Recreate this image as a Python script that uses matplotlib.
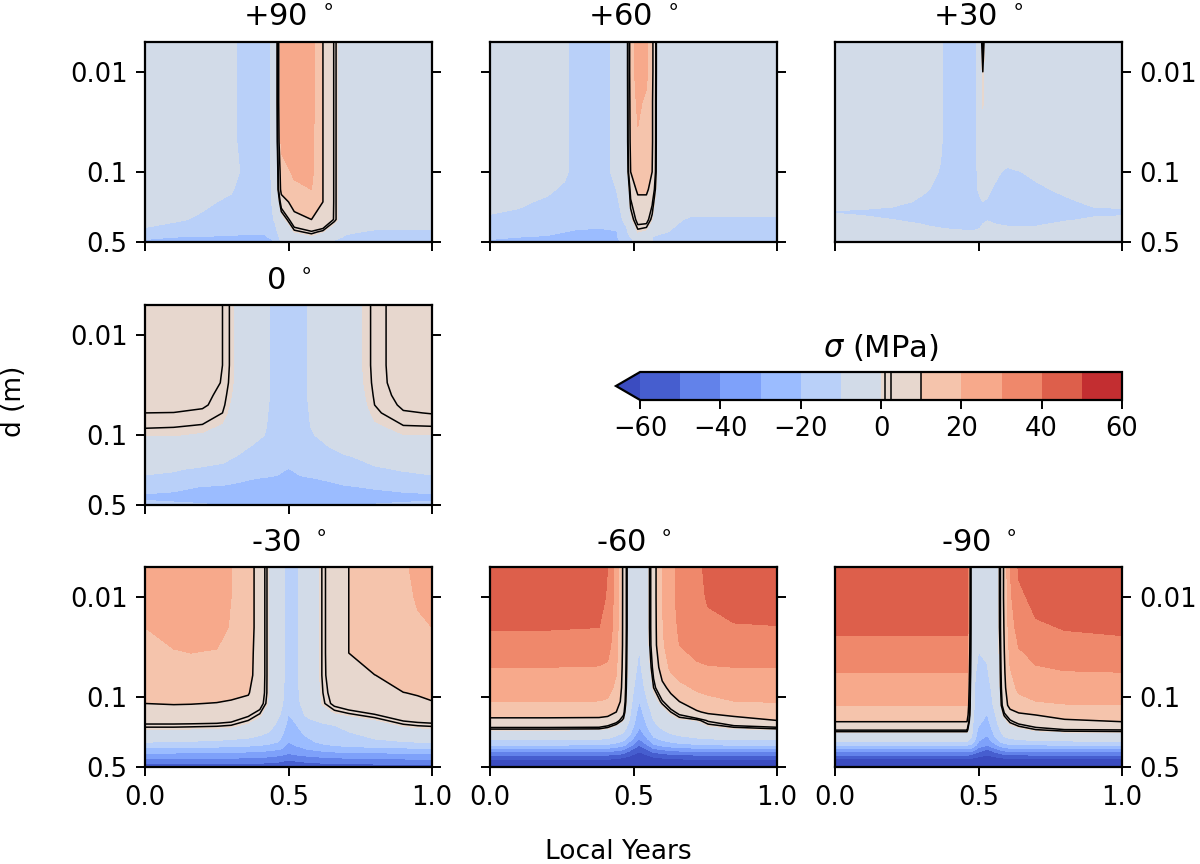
import numpy as np
import matplotlib
matplotlib.use("Agg")
import matplotlib.pyplot as plt
from matplotlib.ticker import NullLocator

# stress levels (MPa) and the black contour lines
LEVELS = [-60, -50, -40, -30, -20, -10, 0, 10, 20, 30, 40, 50, 60]
LINE_LEVELS = [1, 2.5, 10]
CBAR_TICKS = [-60, -40, -20, 0, 20, 40, 60]

# ---- +90 deg ----
P90_YEAR = [0, 0.1, 0.2, 0.3, 0.36, 0.42, 0.455, 0.475, 0.52, 0.58, 0.62, 0.66, 0.70, 0.8, 0.9, 1.0]
P90_DEPTH = [0.005, 0.01, 0.02, 0.05, 0.1, 0.15, 0.2, 0.3, 0.4, 0.45, 0.5]
P90_SIGMA = [
    [-6, -6, -7, -9, -12, -12, -8, 25, 27, 24, 10, 2, -5, -6, -6, -6],
    [-6, -6, -7, -9, -12, -12, -8, 25, 27, 24, 10, 2, -5, -6, -6, -6],
    [-6, -6, -7, -9, -12, -12, -8, 25, 27, 24, 10, 2, -5, -6, -6, -6],
    [-6, -6, -7, -9, -12, -12, -8, 22, 25, 22, 10, 2, -5, -6, -6, -6],
    [-6, -6, -7, -8, -12, -12, -8, 15, 22, 22, 10, 2, -5, -6, -6, -6],
    [-6, -7, -8, -9.5, -13, -13, -8, 13, 17, 20, 10, 2, -5, -6, -6, -6],
    [-6, -7.5, -9, -11, -14, -13, -8, 5, 14, 16, 10, 2, -5, -6, -6, -6],
    [-7, -9, -11, -13, -15, -14, -9, -3, 6, 10, 8, 2, -5, -6, -6, -7],
    [-12, -14, -15, -16, -18, -18, -12, -5, 0, 2, 0, -5, -9, -11, -11, -11],
    [-19, -20, -21, -22, -23, -22, -14, -8, -3, -1, -4, -8, -11, -12, -12, -12],
    [-21, -22, -23, -24, -25, -24, -20, -9, -6, -7, -9, -11, -13, -13, -13, -13],
]

# ---- +60 deg ----
P60_YEAR = [0, 0.1, 0.2, 0.26, 0.3, 0.38, 0.44, 0.475, 0.49, 0.515, 0.545, 0.565, 0.585, 0.62, 0.7, 0.8, 0.9, 1.0]
P60_DEPTH = [0.005, 0.01, 0.02, 0.05, 0.1, 0.15, 0.2, 0.3, 0.4, 0.45, 0.5]
P60_SIGMA = [
    [-6, -6, -7, -9, -12, -12, -9, -4, 14, 25, 22, 12, -3, -6, -6, -6, -6, -6],
    [-6, -6, -7, -9, -12, -12, -9, -4, 14, 25, 22, 12, -3, -6, -6, -6, -6, -6],
    [-6, -6, -7, -9, -12, -12, -9, -4, 13, 22, 18, 11, -3, -6, -6, -6, -6, -6],
    [-6, -6, -7, -9, -12, -12, -9, -4, 12, 18, 16, 11, -3, -6, -6, -6, -6, -6],
    [-6, -6, -7, -9, -12, -12, -9, -5, 10, 16, 15, 10, -3, -6, -6, -6, -6, -6],
    [-7, -8, -9, -11, -13, -13, -10, -6, 4, 12, 12, 6, -3, -6, -6, -6, -6, -6],
    [-8, -9, -11, -13, -14, -14, -11, -7, 2, 7, 7, 3, -4, -6, -6, -6, -6, -6],
    [-11, -12, -14, -15, -16, -16, -13, -8, -1, 4, 4, 0, -6, -8, -11, -11, -11, -11],
    [-15, -16, -18, -20, -21, -22, -21, -12, -6, 0, -1, -5, -9, -10, -12, -12, -12, -12],
    [-19, -20, -21, -22, -23, -23, -21, -15, -10, -7, -8, -10, -11, -12, -13, -13, -13, -13],
    [-21, -22, -23, -24, -24, -24, -22, -17, -11, -9, -9, -10, -12, -13, -13, -13, -13, -13],
]

# ---- +30 deg ----
P30_YEAR = [0, 0.1, 0.2, 0.3, 0.36, 0.4, 0.45, 0.49, 0.505, 0.515, 0.53, 0.56, 0.6, 0.7, 0.8, 0.9, 1.0]
P30_DEPTH = [0.005, 0.01, 0.02, 0.05, 0.08, 0.1, 0.15, 0.2, 0.25, 0.3, 0.35, 0.4, 0.45, 0.5]
P30_SIGMA = [
    [-5, -5, -6, -7, -9, -12, -12, -11, -2, 3, -4, -6, -6, -6, -6, -6, -6],
    [-5, -5, -6, -7, -9, -12, -12, -11, -3, 1, -4, -6, -6, -6, -6, -6, -6],
    [-5, -5, -6, -7, -9, -12, -12, -11, -4, 0.5, -5, -6, -6, -6, -6, -6, -6],
    [-5, -5, -6, -7, -9, -12, -12, -11, -6, -4, -6, -7, -7, -6, -6, -6, -6],
    [-5, -5, -6, -7, -9.5, -12, -12, -11, -7, -6, -7, -8, -9, -7, -6, -6, -6],
    [-5, -6, -6, -8, -10, -12, -12, -11, -8, -7, -8, -9, -11, -9, -7, -6, -6],
    [-5, -6, -7, -9, -11, -12, -12, -11, -9, -8, -9, -11, -13, -11, -9, -7, -6],
    [-6, -7, -8, -11, -12, -13, -13, -12, -11, -10, -10.5, -12, -13, -12, -11, -9, -8],
    [-10.5, -11, -12, -13, -13, -14, -14, -13, -12, -12, -12, -13, -13, -13, -12, -11, -11],
    [-8, -9, -10, -11, -12, -12, -12, -12, -11.5, -11, -10.5, -11, -11, -11, -10.5, -9.5, -9],
    [-7, -7, -8, -9.5, -10.5, -11, -11, -11, -10.5, -9.5, -8, -9.5, -10, -10, -8.5, -8, -7.5],
    [-6, -6, -7, -8, -8.5, -9, -9.5, -9.5, -9, -8, -7, -8, -8, -8, -7, -6.5, -6],
    [-5, -5, -6, -6, -7, -7, -7, -7, -7, -6, -6, -6, -6, -6, -6, -5, -5],
    [-4, -4, -5, -5, -5, -5, -5, -5, -5, -5, -5, -5, -5, -5, -5, -4, -4],
]

# ---- 0 deg ----
P0_YEAR = [0, 0.1, 0.2, 0.27, 0.31, 0.36, 0.42, 0.46, 0.5, 0.54, 0.58, 0.64, 0.69, 0.73, 0.8, 0.9, 1.0]
P0_DEPTH = [0.005, 0.01, 0.02, 0.03, 0.04, 0.05, 0.06, 0.08, 0.1, 0.13, 0.17, 0.22, 0.27, 0.33, 0.4, 0.45, 0.5]
P0_SIGMA = [
    [5, 5, 4.5, 2.5, 0, -5, -9, -12, -13, -12, -9, -6, -3, -1, 1.5, 4, 5],
    [5, 5, 4.5, 2.5, 0, -5, -9, -12, -13, -12, -9, -6, -3, -1, 1.5, 4, 5],
    [5, 5, 4.5, 2.5, 0, -5, -9, -12, -13, -12, -9, -6, -3, -1, 1.5, 4, 5],
    [4.8, 4.8, 4.1, 2.3, -0.2, -5, -9, -12, -13, -12, -9, -6, -3.2, -1.2, 1.4, 3.9, 4.8],
    [4.2, 4.0, 3.3, 1.8, -0.5, -5, -9, -12, -13, -12, -9, -6, -3.5, -1.5, 1.2, 3.4, 4.0],
    [3.4, 3.3, 2.9, 1.5, -1.0, -5.2, -9.2, -12, -13, -12, -9.2, -6.2, -3.8, -2.0, 1.0, 2.9, 3.3],
    [2.5, 2.45, 2.0, 1.0, -1.5, -5.5, -9.5, -12, -13, -12, -9.5, -6.5, -4, -2.5, 0.6, 2.3, 2.6],
    [1.3, 1.2, 0.9, -0.3, -2.5, -6, -9.8, -12, -13, -12, -9.8, -7, -5, -3.5, -0.4, 1.0, 1.1],
    [0.2, 0.1, -0.4, -2, -4, -7, -10.2, -12.5, -13, -12.5, -10.5, -8, -6, -5, -2, -0.1, -0.1],
    [-3, -3.2, -4, -5.5, -7, -9.8, -11.5, -13, -13.5, -13, -11.5, -10, -8.5, -7.5, -5, -3.2, -3],
    [-5.5, -6, -7, -8.5, -10.2, -12, -13, -14, -14.5, -14, -13, -12, -11, -10.2, -8, -6, -5.5],
    [-8.5, -9.5, -11, -12, -13, -14, -16, -18, -20.5, -18, -16, -14.5, -13, -12, -11, -9.5, -8.5],
    [-11, -11.5, -13, -16, -18, -19.5, -20.5, -21, -21.5, -21, -20.3, -19, -17, -15.5, -13.5, -12, -11],
    [-16, -17.5, -20.5, -21, -21.5, -22, -22.5, -23, -23, -23, -22.5, -22, -21, -20.3, -19, -17, -16],
    [-21, -22, -23, -23.5, -24, -24.5, -25, -25.5, -26, -25.5, -25, -24.5, -24, -23.5, -23, -22, -21],
    [-20, -21, -22, -23, -23.5, -24, -25, -26, -27, -26, -25, -24, -23, -22.5, -22, -21, -20.5],
    [-17, -18, -19, -20.5, -21, -22, -23, -24, -25, -24, -23, -22, -21, -20.5, -19.5, -18.5, -17.5],
]

# ---- -30 deg ----
M30_YEAR = [0, 0.1, 0.16, 0.25, 0.3, 0.36, 0.4, 0.43, 0.47, 0.5, 0.53, 0.57, 0.62, 0.66, 0.71, 0.8, 0.9, 0.95, 1.0]
M30_DEPTH = [0.005, 0.01, 0.02, 0.036, 0.06, 0.09, 0.115, 0.15, 0.19, 0.23, 0.28, 0.32, 0.36, 0.41, 0.46, 0.5]
M30_SIGMA = [
    [22, 24, 24, 23, 20, 14, 6, 0, -8, -12, -10.5, -5, 1.5, 6, 10, 14, 19, 21.5, 23],
    [21.5, 23.5, 24, 23, 20, 14, 6, 0, -8, -12, -10.5, -5, 1.5, 6, 10, 14, 18.5, 20.5, 22],
    [20, 22, 22.5, 22, 19.5, 14, 6, 0, -8, -12, -10.5, -5, 1.5, 6, 10, 14, 17.5, 19, 20],
    [17.5, 19.5, 20, 19.5, 17, 13, 6, 0, -8, -12, -10.5, -5, 1.5, 6, 10, 13.5, 16, 17, 17.5],
    [15, 16, 16, 15.5, 14.5, 12.5, 6, 0, -8, -12, -10.5, -5, 1.5, 5.5, 8.5, 9.9, 12.5, 13.5, 14],
    [12, 12.5, 12.5, 12, 11.5, 10.5, 5.5, 0, -8, -12.5, -11, -5.5, 1, 4.5, 6.5, 8.3, 9.9, 10.4, 10.8],
    [10, 10.3, 10.2, 9.8, 9.2, 8, 4.5, -0.5, -8.5, -13, -11.5, -6, 0.5, 3.5, 5, 6.5, 8, 8.8, 9.7],
    [7, 7, 6.8, 6.3, 5.5, 3, 0.5, -3, -10, -20.5, -14, -8, -3, -1, 0.3, 2.2, 5, 5.5, 6],
    [1.8, 1.8, 1.7, 1.5, 1, -1, -3.5, -6.5, -13, -23, -20, -15, -12, -10, -7, -3, 0.5, 1.2, 1.5],
    [-2, -2, -2.3, -3, -4, -6, -8.5, -11, -17, -25, -22, -18, -15, -13, -11, -7, -4, -3, -2.5],
    [-10, -10.5, -11, -12, -13, -14, -15.5, -17, -21, -30, -26, -22, -18, -16, -14, -12, -10.5, -10, -9.5],
    [-20, -20.5, -21, -21.5, -22, -23, -24, -25, -28, -35, -32, -28, -25, -23, -22, -21, -20, -19.5, -19],
    [-30, -30, -30.5, -31, -31.5, -32, -33, -34, -36, -39.5, -37, -35, -33, -32, -31, -30.5, -29.5, -29, -28.5],
    [-40, -40, -40, -40.5, -41, -41.5, -42, -43, -45, -48, -46, -44, -42.5, -41.5, -41, -40.5, -39.5, -39, -38.5],
    [-50, -50, -50, -50, -50, -50.5, -51, -51.5, -53, -56, -54, -52, -51, -50.5, -50, -49.5, -49, -48.5, -48],
    [-55, -55, -55, -55, -55, -56, -57, -58, -60, -63, -61, -59, -57, -56, -55.5, -55, -54.5, -54, -54],
]

# ---- -60 deg ----
M60_YEAR = [0, 0.2, 0.38, 0.41, 0.44, 0.465, 0.485, 0.52, 0.55, 0.57, 0.6, 0.63, 0.66, 0.72, 0.76, 0.85, 1.0]
M60_DEPTH = [0.005, 0.01, 0.02, 0.03, 0.05, 0.08, 0.11, 0.14, 0.17, 0.2, 0.23, 0.26, 0.3, 0.35, 0.4, 0.45, 0.5]
M60_SIGMA = [
    [46, 45, 44, 40, 25, 8, -3, -6, -1, 6, 20, 28, 32, 38, 42, 45, 46],
    [44, 44, 43, 39, 25, 8, -3, -6, -1, 6, 20, 28, 32, 37, 41, 44, 45],
    [40.5, 40.5, 40, 37, 24, 8, -3, -7, -1, 6, 19, 27, 31, 35, 37, 39, 39.5],
    [36.5, 36.5, 36, 34, 23, 8, -3.5, -9.8, -1.5, 6, 18, 26, 30, 33, 34, 35, 35.5],
    [30, 30, 29.5, 28, 21, 7.5, -4, -12, -3, 4, 14, 22, 25, 28.5, 29.5, 30, 30],
    [24.5, 24.5, 24, 23, 18, 7, -5, -16, -6, 1, 7.5, 12.5, 17, 21.5, 23, 24.5, 25],
    [20, 20, 19.8, 19, 15, 6, -6, -20, -10, -3, 2, 6, 10, 15, 17, 19.8, 20.5],
    [14, 14, 13.8, 13, 10, 4, -8, -24, -14, -7, -3, 1, 4, 9, 11.5, 13, 13.5],
    [8, 8, 7.8, 7, 4.5, 0, -10, -27, -17, -10, -6, -3, -1, 0, 3, 7, 10],
    [2.5, 2.5, 2.3, 1, -2, -6, -14, -30, -20, -13, -9, -6, -4, -2.5, -1, 0.8, 2.2],
    [-3.5, -3.5, -4, -5, -8, -11, -18, -35, -25, -17, -13, -10, -8, -6, -4.5, -3.8, -3.5],
    [-9, -9, -9.5, -10.5, -13, -17, -25, -40, -30, -22, -18, -15, -13, -11, -10, -9.3, -9],
    [-20, -20, -20.5, -21.5, -24, -28, -36, -50, -40, -32, -28, -25, -23, -21.5, -20.5, -20, -20],
    [-40, -40, -40.5, -41, -43, -46, -52, -60, -55, -49, -46, -44, -42.5, -41, -40.5, -40, -40],
    [-57, -57, -57, -57.5, -58.5, -60, -63, -66, -64, -61, -59.5, -58.5, -58, -57.5, -57, -57, -57],
    [-66, -66, -66, -66, -66.5, -67, -68, -70, -69, -68, -67, -66.5, -66, -66, -66, -66, -66],
    [-70, -70, -70, -70, -70, -71, -72, -74, -73, -72, -71, -70, -70, -70, -70, -70, -70],
]

# ---- -90 deg ----
M90_YEAR = [0, 0.2, 0.4, 0.46, 0.475, 0.5, 0.53, 0.56, 0.575, 0.59, 0.61, 0.64, 0.7, 0.8, 1.0]
M90_DEPTH = [0.005, 0.01, 0.02, 0.035, 0.056, 0.08, 0.12, 0.15, 0.175, 0.21, 0.24, 0.275, 0.3, 0.33, 0.36, 0.41, 0.45, 0.5]
M90_SIGMA = [
    [46, 46, 46, 46, -4, -6, -5, -2, 1.5, 12, 30, 41, 44, 45, 46],
    [44.5, 44.5, 44.5, 44.5, -4, -7, -6, -2, 1.5, 12, 28, 38, 42.5, 44, 44.5],
    [41.5, 41.5, 41.5, 41.5, -4, -8, -7, -2.5, 1.5, 11, 25, 34, 38.5, 40.5, 41.5],
    [36, 36, 36, 36, -4.5, -10, -9, -3, 1, 10, 22, 29, 33, 35, 36],
    [30, 30, 30, 30, -5, -13, -11, -4, 0.5, 9, 19, 25, 28, 29.5, 30],
    [25, 25, 25, 25, -5.5, -16, -14, -5, 0, 8, 17, 21.5, 24, 25, 25.5],
    [20, 20, 20, 20, -6, -16, -17, -7, -1, 6, 13, 16.5, 18.5, 19.5, 19.8],
    [15.5, 15.5, 15.5, 15.5, -7, -16, -20.5, -10, -3, 1.5, 5, 8, 10, 12.5, 14],
    [10, 10, 10, 10, -7.5, -18, -23, -12, -6, -2, 1.5, 4, 6, 8.5, 10],
    [3, 3, 3, 3, -8, -22, -27, -15, -10, -6, -3, -1.5, 1, 2.5, 2.8],
    [-3, -3, -3, -3, -9, -25, -30, -18, -13, -9, -7, -5.5, -4, -3.5, -3],
    [-10, -10, -10, -10, -13, -30, -36, -25, -19, -15, -13, -12, -11, -10.5, -10],
    [-20, -20, -20, -20, -22, -34, -40, -32, -27, -24, -22, -21, -20.5, -20, -20],
    [-31, -31, -31, -31, -33, -44, -50, -42, -38, -35, -33, -32, -31.5, -31, -31],
    [-44, -44, -44, -44, -46, -53, -57, -52, -49, -47, -45.5, -45, -44.5, -44, -44],
    [-60.5, -60.5, -60.5, -60.5, -61, -64, -66, -64, -62.5, -61.5, -61, -60.5, -60.5, -60.5, -60.5],
    [-66, -66, -66, -66, -66.5, -68, -70, -68, -67, -66.5, -66, -66, -66, -66, -66],
    [-70, -70, -70, -70, -70, -72, -74, -72, -71, -70, -70, -70, -70, -70, -70],
]

PANELS = [
    ("+90 $^\\circ$", P90_YEAR, P90_DEPTH, P90_SIGMA, 0, 0),
    ("+60 $^\\circ$", P60_YEAR, P60_DEPTH, P60_SIGMA, 0, 1),
    ("+30 $^\\circ$", P30_YEAR, P30_DEPTH, P30_SIGMA, 0, 2),
    ("0 $^\\circ$", P0_YEAR, P0_DEPTH, P0_SIGMA, 1, 0),
    ("-30 $^\\circ$", M30_YEAR, M30_DEPTH, M30_SIGMA, 2, 0),
    ("-60 $^\\circ$", M60_YEAR, M60_DEPTH, M60_SIGMA, 2, 1),
    ("-90 $^\\circ$", M90_YEAR, M90_DEPTH, M90_SIGMA, 2, 2),
]

W, H = 1200, 864
COL_LEFT = [145, 490, 835]
ROW_TOP = [41.7, 305, 567.3]
AX_W, AX_H = 287, 200

TICK_SIZE = 18.5
TITLE_SIZE = 22


def draw_panel(ax, title, years, depths, sigma, row, col):
    '''
    Draws one latitude panel: filled stress contours plus the black lines
    '''
    z = np.array(sigma, dtype=float)
    cf = ax.contourf(years, depths, z, levels=LEVELS, cmap="coolwarm", extend="min")
    cl = ax.contour(years, depths, z, levels=LINE_LEVELS, colors="k", linewidths=1.1)
    ax.set_yscale("log")
    ax.set_ylim(0.5, 0.005)
    ax.set_xlim(0, 1)
    ax.set_yticks([0.01, 0.1, 0.5])
    ax.set_yticklabels(["0.01", "0.1", "0.5"])
    ax.yaxis.set_minor_locator(NullLocator())
    ax.set_xticks([0, 0.5, 1])
    ax.set_xticklabels(["0.0", "0.5", "1.0"])
    ax.set_title(title, fontsize=TITLE_SIZE, pad=11)
    for sp in ax.spines.values():
        sp.set_linewidth(1.6)
    ax.tick_params(labelsize=TICK_SIZE, length=6.5, width=1.4, pad=6)
    ax.tick_params(axis="x", labelbottom=(row == 2))
    if col == 0:
        ax.tick_params(axis="y", left=True, labelleft=True, right=True, labelright=False)
    elif col == 1:
        ax.tick_params(axis="y", left=True, labelleft=False, right=True, labelright=False)
    else:
        ax.tick_params(axis="y", left=False, labelleft=False, right=True, labelright=True)
    return cf, cl


fig = plt.figure(figsize=(W / 100, H / 100), dpi=100)

last_cf, last_cl = None, None
for title, years, depths, sigma, row, col in PANELS:
    rect = [COL_LEFT[col] / W, 1 - (ROW_TOP[row] + AX_H) / H, AX_W / W, AX_H / H]
    ax = fig.add_axes(rect)
    last_cf, last_cl = draw_panel(ax, title, years, depths, sigma, row, col)

# colorbar (box includes the extension triangle)
cax = fig.add_axes([616 / W, 1 - 400 / H, 506 / W, 28 / H])
cbar = fig.colorbar(last_cf, cax=cax, orientation="horizontal", ticks=CBAR_TICKS)
cbar.add_lines(last_cl)
cbar.outline.set_linewidth(1.6)
cax.tick_params(labelsize=TICK_SIZE, length=6.5, width=1.4, pad=5)
cax.set_title("$\\sigma$ (MPa)", fontsize=TITLE_SIZE, pad=11)

fig.text(0.012, 0.535, "d (m)", rotation=90, ha="center", va="center", fontsize=19)
fig.text(0.515, 0.014, "Local Years", ha="center", va="center", fontsize=19)

fig.savefig("out.png", dpi=100)
